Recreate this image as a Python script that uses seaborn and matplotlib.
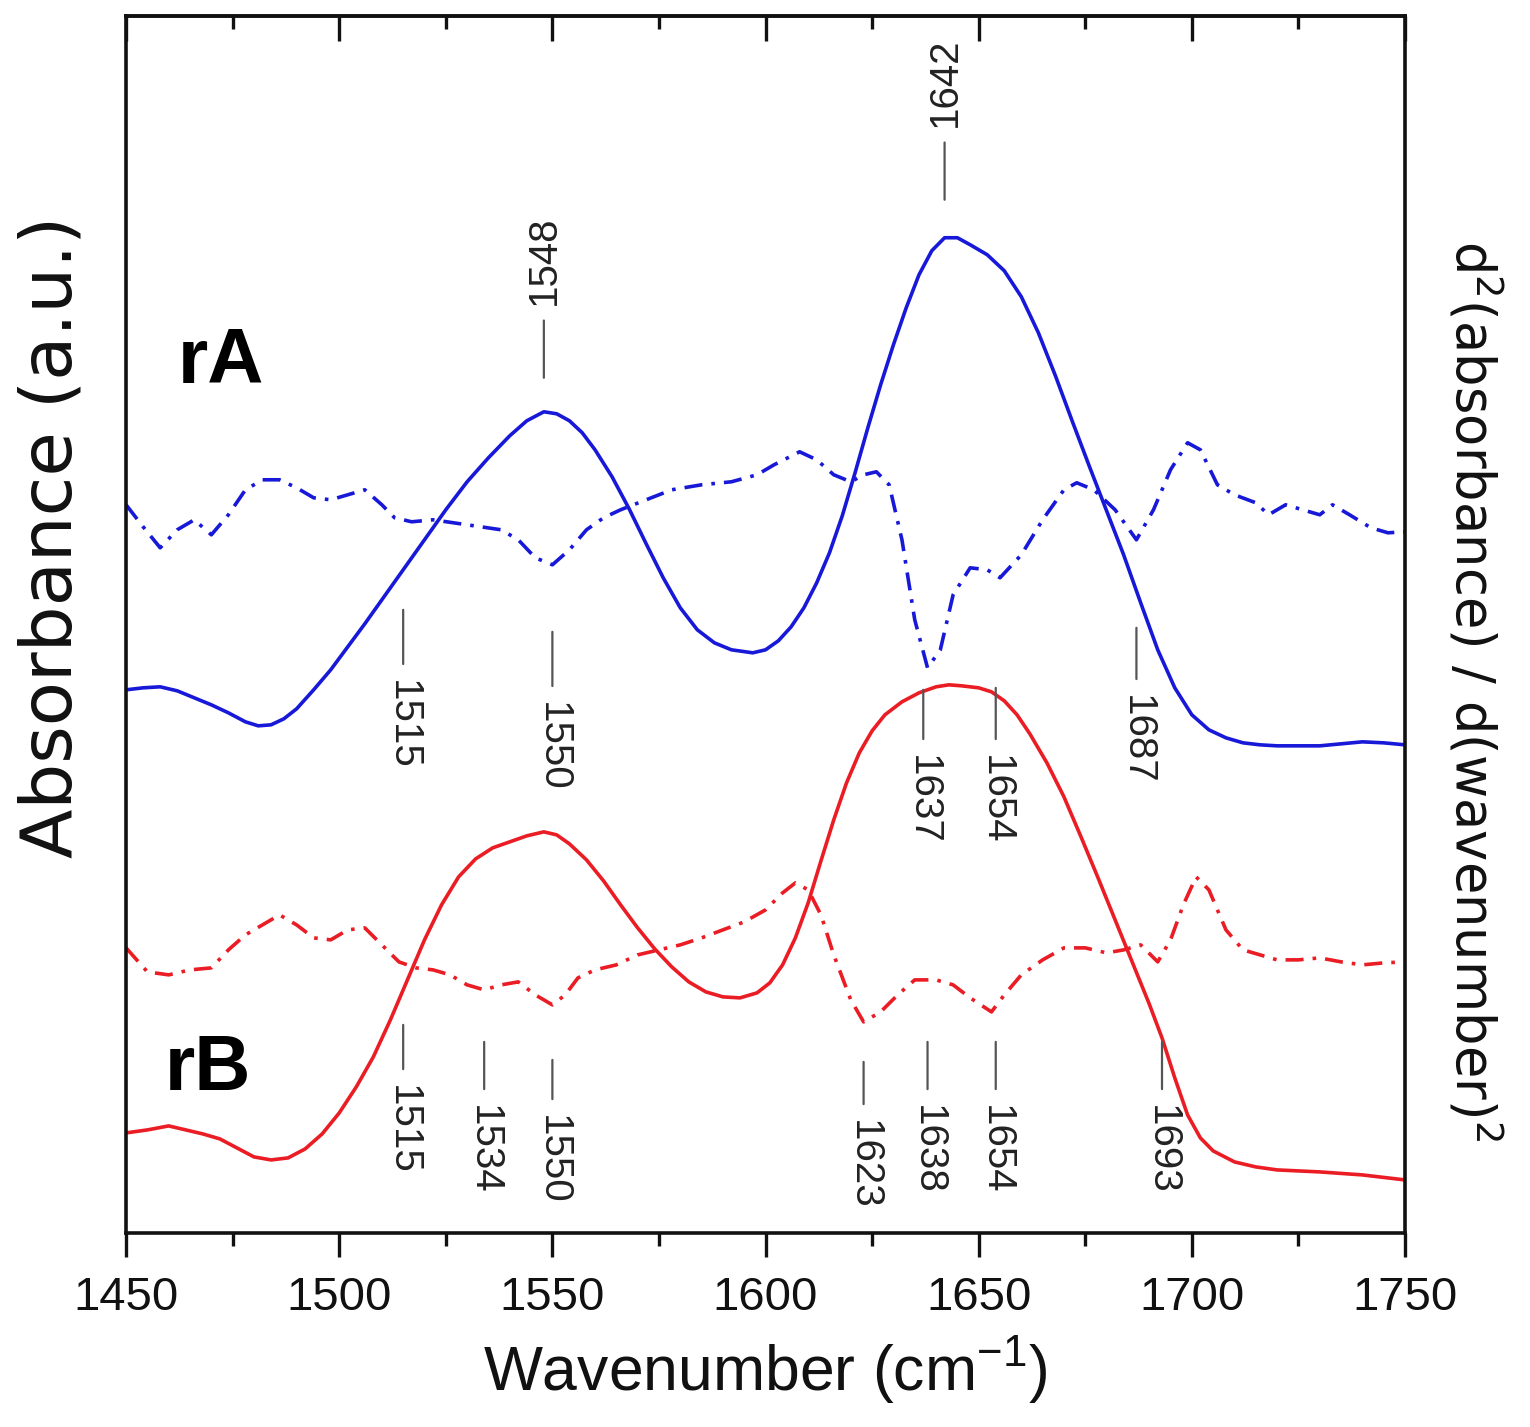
import matplotlib
matplotlib.use("Agg")
import matplotlib.pyplot as plt
import pandas as pd
import seaborn as sns
from matplotlib.ticker import MultipleLocator

# ---- data (arbitrary units, stacked offsets kept) ----
wn_abs_rA = [1450, 1454, 1458, 1462, 1466, 1470, 1474, 1478, 1481, 1484, 1487, 1490,
             1494, 1498, 1502, 1506, 1510, 1515, 1520, 1525, 1530, 1535, 1540, 1544,
             1548, 1551, 1554, 1557, 1560, 1564, 1568, 1572, 1576, 1580, 1584, 1588,
             1592, 1597, 1600, 1603, 1606, 1609, 1612, 1615, 1618, 1621, 1624, 1627,
             1630, 1633, 1636, 1639, 1642, 1645, 1648, 1652, 1656, 1660, 1664, 1668,
             1672, 1676, 1680, 1684, 1688, 1692, 1696, 1700, 1704, 1708, 1712, 1716,
             1720, 1725, 1730, 1735, 1740, 1745, 1750]
abs_rA = [543, 545, 546, 542, 535, 528, 520, 511, 507, 508, 514, 524,
          543, 563, 586, 609, 633, 663, 693, 723, 751, 775, 797, 812,
          821, 819, 812, 800, 783, 756, 724, 689, 655, 625, 603, 590,
          583, 580, 583, 592, 606, 625, 650, 680, 717, 760, 805, 848,
          888, 925, 958, 982, 995, 995, 988, 978, 962, 936, 900, 857,
          811, 766, 722, 678, 630, 583, 545, 518, 503, 495, 490, 488,
          487, 487, 487, 489, 491, 490, 488]

wn_d2_rA = [1450, 1454, 1458, 1462, 1466, 1470, 1474, 1478, 1482, 1486, 1490, 1494,
            1498, 1502, 1506, 1510, 1513, 1517, 1522, 1530, 1538, 1542, 1546, 1550,
            1554, 1558, 1562, 1566, 1572, 1578, 1585, 1592, 1598, 1602, 1608, 1612,
            1616, 1620, 1623, 1626, 1629, 1632, 1635, 1638, 1641, 1644, 1648, 1652,
            1655, 1660, 1665, 1670, 1673, 1677, 1682, 1687, 1691, 1695, 1699, 1702,
            1706, 1710, 1715, 1718, 1722, 1726, 1730, 1733, 1737, 1742, 1746, 1750]
d2_rA = [728, 706, 685, 703, 713, 698, 718, 743, 753, 753, 745, 735,
         733, 738, 743, 728, 715, 711, 713, 708, 703, 693, 675, 668,
         683, 703, 715, 723, 733, 743, 748, 751, 758, 768, 781, 773,
         758, 751, 758, 761, 748, 693, 613, 565, 583, 638, 665, 663,
         655, 678, 713, 743, 750, 743, 723, 693, 723, 763, 790, 783,
         748, 738, 730, 718, 728, 723, 718, 728, 718, 705, 700, 701]

wn_abs_rB = [1450, 1455, 1460, 1464, 1468, 1472, 1476, 1480, 1484, 1488, 1492, 1496,
             1500, 1504, 1508, 1512, 1516, 1520, 1524, 1528, 1532, 1536, 1540, 1544,
             1548, 1551, 1554, 1558, 1562, 1566, 1570, 1574, 1578, 1582, 1586, 1590,
             1594, 1598, 1601, 1604, 1607, 1610, 1613, 1616, 1619, 1622, 1625, 1628,
             1632, 1636, 1640, 1643, 1646, 1650, 1653, 1656, 1659, 1662, 1666, 1670,
             1674, 1678, 1682, 1686, 1690, 1693, 1696, 1699, 1702, 1705, 1710, 1715,
             1720, 1730, 1740, 1750]
abs_rB = [100, 103, 107, 103, 99, 94, 85, 76, 73, 75, 84, 99,
          120, 146, 176, 213, 253, 293, 328, 356, 374, 385, 391, 397,
          401, 398, 389, 373, 352, 328, 305, 284, 266, 251, 241, 236,
          235, 240, 250, 268, 295, 330, 372, 413, 450, 480, 502, 518,
          531, 540, 546, 548, 547, 545, 541, 532, 518, 499, 470, 436,
          396, 355, 313, 271, 229, 195, 155, 118, 95, 82, 71, 66,
          63, 61, 58, 53]

wn_d2_rB = [1450, 1455, 1460, 1465, 1470, 1474, 1478, 1482, 1486, 1490, 1494, 1498,
            1502, 1506, 1510, 1514, 1518, 1522, 1526, 1530, 1534, 1538, 1542, 1546,
            1550, 1553, 1556, 1560, 1565, 1570, 1575, 1580, 1585, 1590, 1595, 1600,
            1604, 1607, 1610, 1613, 1616, 1620, 1623, 1627, 1631, 1635, 1640, 1644,
            1648, 1653, 1656, 1660, 1665, 1670, 1675, 1680, 1684, 1688, 1692, 1695,
            1698, 1701, 1704, 1708, 1712, 1716, 1720, 1725, 1730, 1735, 1740, 1745, 1750]
d2_rB = [285, 261, 258, 263, 265, 283, 298, 308, 318, 308, 295, 293,
         303, 305, 288, 271, 265, 263, 258, 248, 243, 248, 251, 238,
         228, 238, 255, 263, 268, 278, 283, 288, 295, 303, 311, 323,
         340, 350, 343, 318, 278, 233, 211, 221, 238, 253, 253, 248,
         235, 221, 238, 258, 273, 285, 285, 280, 283, 288, 271, 293,
         328, 356, 343, 303, 283, 278, 273, 273, 275, 271, 268, 270, 271]

BLUE = "#1818d8"
RED = "#ea1c24"


def _frame(wn, values, sample, kind):
    return pd.DataFrame({"wavenumber": wn, "signal": values, "sample": sample, "kind": kind})


spectra = pd.concat([
    _frame(wn_abs_rA, abs_rA, "rA", "absorbance"),
    _frame(wn_d2_rA, d2_rA, "rA", "second derivative"),
    _frame(wn_abs_rB, abs_rB, "rB", "absorbance"),
    _frame(wn_d2_rB, d2_rB, "rB", "second derivative"),
], ignore_index=True)

sns.set_theme(style="ticks")
plt.rcParams["font.family"] = ["Liberation Sans", "DejaVu Sans"]
plt.rcParams["mathtext.default"] = "regular"

fig = plt.figure(figsize=(15.3, 14.27), dpi=100)
ax = fig.add_axes([0.0824, 0.136, 0.8359, 0.853])

sns.lineplot(
    data=spectra, x="wavenumber", y="signal", hue="sample", style="kind",
    palette={"rA": BLUE, "rB": RED},
    dashes={"absorbance": "", "second derivative": (5, 2.5, 1, 2.5)},
    linewidth=2.6, legend=False, estimator=None, sort=True, ax=ax,
)

ax.set_xlim(1450, 1750)
ax.set_ylim(0, 1217)
ax.set_yticks([])
ax.set_xlabel("")
ax.set_ylabel("")
for side in ax.spines.values():
    side.set_visible(True)
    side.set_linewidth(2.6)
    side.set_color("#111111")

ax.xaxis.set_major_locator(MultipleLocator(50))
ax.xaxis.set_minor_locator(MultipleLocator(25))
ax.tick_params(axis="x", which="major", direction="out", length=17, width=2.4,
               color="#111111", pad=14, labelsize=34, labelcolor="#111111")
ax.tick_params(axis="x", which="minor", direction="out", length=9, width=2.4, color="#111111")

top = ax.secondary_xaxis("top")
top.xaxis.set_major_locator(MultipleLocator(50))
top.xaxis.set_minor_locator(MultipleLocator(25))
top.tick_params(axis="x", which="major", direction="in", length=18, width=2.4,
                color="#111111", labeltop=False)
top.tick_params(axis="x", which="minor", direction="in", length=9, width=2.4, color="#111111")
top.spines["top"].set_linewidth(2.6)

# peak markers: (label, wavenumber, leader tip, text edge, direction)
peak_marks = [
    ("1642", 1642, 1033, 1106, "up"), ("1548", 1548, 855, 928, "up"),
    ("1515", 1515, 623, 553, "down"), ("1550", 1550, 601, 531, "down"),
    ("1637", 1637, 543, 478, "down"), ("1654", 1654, 545, 478, "down"),
    ("1687", 1687, 605, 538, "down"),
    ("1515", 1515, 208, 148, "down"), ("1534", 1534, 191, 128, "down"),
    ("1550", 1550, 173, 118, "down"), ("1623", 1623, 171, 113, "down"),
    ("1638", 1638, 191, 128, "down"), ("1654", 1654, 191, 128, "down"),
    ("1693", 1693, 191, 128, "down"),
]
for text, xpos, tip, edge, way in peak_marks:
    up = way == "up"
    ax.annotate(
        text, xy=(xpos, tip), xytext=(xpos, edge), textcoords="data",
        rotation=90 if up else 270, ha="center", va="bottom" if up else "top",
        fontsize=29, color="#222222",
        arrowprops=dict(arrowstyle="-", color="#555555", lw=1.6,
                        shrinkA=9, shrinkB=0, relpos=(0.5, 0.0 if up else 1.0)),
    )

ax.text(1462.2, 850, "rA", fontsize=56, fontweight="bold", color="black", ha="left", va="baseline")
ax.text(1459, 143, "rB", fontsize=56, fontweight="bold", color="black", ha="left", va="baseline")

fig.text(0.5, 0.04, "Wavenumber (cm$^{-1}$)", ha="center", va="center",
         fontsize=45, color="#111111")
fig.text(0.034, 0.624, "Absorbance (a.u.)", rotation=90, ha="center", va="center",
         fontsize=52, family=["DejaVu Sans"], color="#111111")
fig.text(0.963, 0.516, "d$^2$(absorbance) / d(wavenumber)$^2$", rotation=270,
         ha="center", va="center", fontsize=38, family=["DejaVu Sans"], color="#111111")

fig.savefig("out.png", dpi=100)
